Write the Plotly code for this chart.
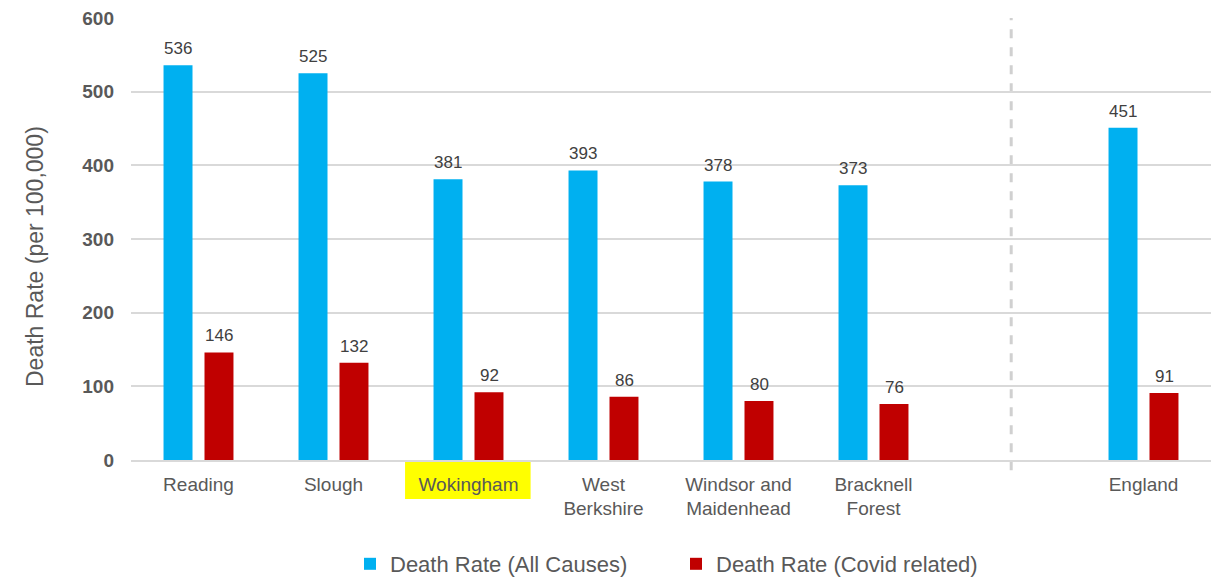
import plotly.graph_objects as go

categories = ["Reading", "Slough", "Wokingham", "West<br>Berkshire",
              "Windsor and<br>Maidenhead", "Bracknell<br>Forest", " ", "England"]
all_causes = [536, 525, 381, 393, 378, 373, None, 451]
covid = [146, 132, 92, 86, 80, 76, None, 91]
series_names = ["Death Rate (All Causes)", "Death Rate (Covid related)"]
y_ticks = [0, 100, 200, 300, 400, 500, 600]
y_title = "Death Rate (per 100,000)"

FONT = "Arial, Liberation Sans, sans-serif"
BLUE = "#00B0F0"
RED = "#C00000"
SUBSLOT_PX = 41  # px between the two bar centres in a group

fig = go.Figure()
fig.add_trace(go.Bar(x=categories, y=all_causes, name=series_names[0],
                     marker=dict(color=BLUE, line=dict(width=0))))
fig.add_trace(go.Bar(x=categories, y=covid, name=series_names[1],
                     marker=dict(color=RED, line=dict(width=0))))

# value labels above bars
for vals, shift in ((all_causes, -SUBSLOT_PX / 2), (covid, SUBSLOT_PX / 2)):
    for cat, v in zip(categories, vals):
        if v is None:
            continue
        fig.add_annotation(x=cat, y=v, xref="x", yref="y", text=str(v),
                           showarrow=False, xanchor="center", yanchor="bottom",
                           xshift=shift, yshift=5,
                           font=dict(size=17, color="#404040", family=FONT))

# y-axis title
fig.add_annotation(x=-0.0889, y=0.4615, xref="paper", yref="paper", text=y_title,
                   showarrow=False, textangle=-90, xanchor="center", yanchor="middle",
                   font=dict(size=23, color="#595959", family=FONT))

# yellow highlight behind "Wokingham"
fig.add_shape(type="rect", xref="x", yref="paper", x0=1.53, x1=2.46,
              y0=-0.088, y1=-0.002, fillcolor="#FFFF00", line=dict(width=0),
              layer="below")
# dashed separator
fig.add_shape(type="line", xref="x", yref="paper", x0=6.02, x1=6.02,
              y0=-0.023, y1=1.0, line=dict(color="#D0D0D0", width=3, dash="dash"),
              layer="below")

fig.update_layout(
    width=1211, height=577,
    margin=dict(l=131, r=0, t=18, b=117, autoexpand=False),
    paper_bgcolor="white", plot_bgcolor="white",
    barmode="group", bargap=0.393, bargroupgap=0.293,
    font=dict(family=FONT, color="#595959"),
    showlegend=True,
    legend=dict(orientation="h", xanchor="left", yanchor="middle",
                xref="container", yref="container",
                x=350 / 1211, y=(577 - 564) / 577, entrywidth=281, itemwidth=30,
                font=dict(size=22, color="#595959", family=FONT)),
    xaxis=dict(type="category", categoryorder="array", categoryarray=categories,
               showline=True, linecolor="#D9D9D9", linewidth=1.5,
               ticks="", ticklabelstandoff=6,
               tickfont=dict(size=19, color="#595959", family=FONT),
               showgrid=False),
    yaxis=dict(range=[0, 600], tickvals=y_ticks, showgrid=True,
               gridcolor="#D9D9D9", gridwidth=1.5, zeroline=False,
               ticks="", ticklabelstandoff=16,
               tickfont=dict(size=19, color="#595959", family=FONT, weight="bold")),
)

fig.write_html("out.html")
